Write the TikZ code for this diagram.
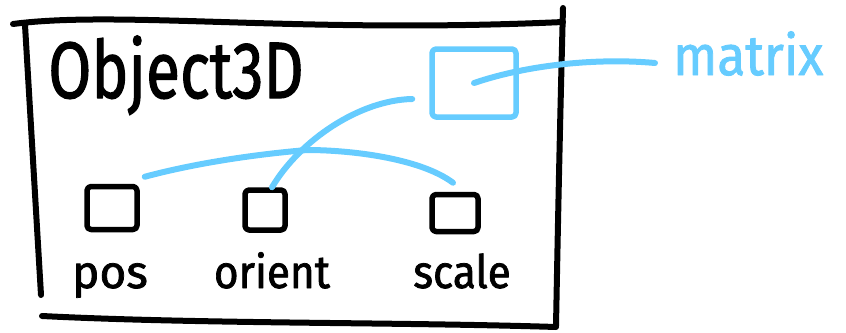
\documentclass[tikz,border=0pt]{standalone}
\usepackage{fontspec}
\setmainfont{Fira Sans}[BoldFont=Fira Sans, BoldFeatures={FakeBold=1.6}]
\usepackage{graphicx}
\usepackage{tikz}
\usetikzlibrary{positioning}
\definecolor{skyblue}{RGB}{102,204,255}

\begin{document}
\begin{tikzpicture}[
    x=1pt, y=-1pt, line cap=round, line join=round,
    ink/.style={line width=6pt, black},
    wire/.style={line width=6pt, skyblue},
    slot/.style={draw, line width=5.5pt, rounded corners=4pt, inner sep=0pt},
    lbl/.style={font=\fontsize{46}{46}\selectfont\bfseries, anchor=base, inner sep=0pt}]
  \useasboundingbox (0,0) rectangle (846,332);
  \draw[ink] (13,24) .. controls (120,10) and (300,34) .. (563,22);
  \draw[ink] (563,8) .. controls (560,120) and (558,220) .. (556,326);
  \draw[ink] (25,25) -- (41,295);
  \draw[ink] (42,316) .. controls (200,324) and (400,322) .. (556,327);
  \node[lbl, font=\fontsize{80}{80}\selectfont\bfseries] (title) at (176,98) {\scalebox{0.78}[1]{Object3D}};
  \node[slot, minimum width=50pt, minimum height=43pt] (posbox) at (112,208) {};
  \node[slot, minimum width=40pt, minimum height=40pt] (orientbox) at (265,210) {};
  \node[slot, minimum width=46pt, minimum height=37pt] (scalebox) at (455,213) {};
  \node[slot, skyblue, minimum width=84pt, minimum height=68pt] (mbox) at (474,83) {};
  \node[lbl] (pos) at (110,288) {pos};
  \node[lbl] (orient) at (272,288) {\scalebox{0.92}[1]{orient}};
  \node[lbl] (scale) at (462,288) {\scalebox{0.92}[1]{scale}};
  \node[lbl, skyblue, anchor=base west, font=\fontsize{56}{56}\selectfont\bfseries] (matrix) at (673,75) {\scalebox{0.92}[1]{matrix}};
  \draw[wire] ([shift={(5pt,7pt)}]posbox.north east) .. controls (200,162) and (260,154) .. (307,150)
    .. controls (350,150) and (420,158) .. ([shift={(-2pt,9pt)}]scalebox.north);
  \draw[wire] ([xshift=7pt]orientbox.north) .. controls (300,140) and (360,100) .. ([shift={(-17pt,-16pt)}]mbox.west);
  \draw[wire] (mbox.center) .. controls (530,64) and (600,58) .. ([shift={(-18pt,12pt)}]matrix.base west);
\end{tikzpicture}
\end{document}
